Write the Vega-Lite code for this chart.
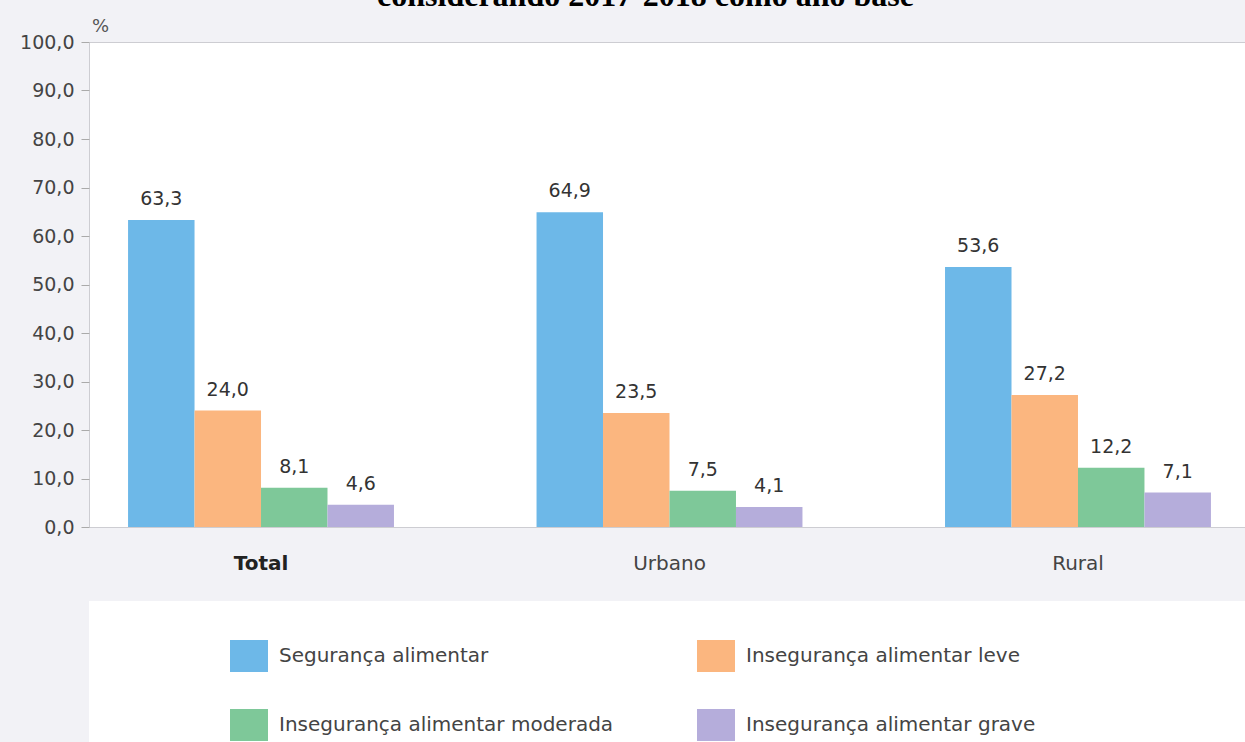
{
  "$schema": "https://vega.github.io/schema/vega-lite/v6.json",
  "background": "#f2f2f6",
  "padding": {"left": 0, "top": -21, "right": 0, "bottom": 0},
  "title": {
    "text": "considerando 2017-2018 como ano base",
    "font": "Liberation Serif",
    "fontSize": 32,
    "fontWeight": "bold",
    "color": "#000000",
    "anchor": "middle",
    "offset": 4,
    "dx": 20
  },
  "config": {
    "font": "DejaVu Sans",
    "view": {"stroke": null},
    "locale": {"number": {"decimal": ",", "thousands": ".", "grouping": [3], "currency": ["R$", ""]}}
  },
  "spacing": 27,
  "resolve": {"scale": {"color": "shared"}},
  "vconcat": [
    {
      "width": 1161,
      "height": 485,
      "view": {"fill": "white", "stroke": "#cdcdd2"},
      "data": {
        "values": [
          {"area": "Total", "cat": "Segurança alimentar", "value": 63.3},
          {"area": "Total", "cat": "Insegurança alimentar leve", "value": 24.0},
          {"area": "Total", "cat": "Insegurança alimentar moderada", "value": 8.1},
          {"area": "Total", "cat": "Insegurança alimentar grave", "value": 4.6},
          {"area": "Urbano", "cat": "Segurança alimentar", "value": 64.9},
          {"area": "Urbano", "cat": "Insegurança alimentar leve", "value": 23.5},
          {"area": "Urbano", "cat": "Insegurança alimentar moderada", "value": 7.5},
          {"area": "Urbano", "cat": "Insegurança alimentar grave", "value": 4.1},
          {"area": "Rural", "cat": "Segurança alimentar", "value": 53.6},
          {"area": "Rural", "cat": "Insegurança alimentar leve", "value": 27.2},
          {"area": "Rural", "cat": "Insegurança alimentar moderada", "value": 12.2},
          {"area": "Rural", "cat": "Insegurança alimentar grave", "value": 7.1}
        ]
      },
      "encoding": {
        "x": {
          "field": "area",
          "type": "nominal",
          "sort": ["Total", "Urbano", "Rural"],
          "scale": {"paddingInner": 0.349, "paddingOuter": 0.0956},
          "axis": {
            "title": null,
            "labelAngle": 0,
            "labelFontSize": 20,
            "labelColor": {"condition": {"test": "datum.value === 'Total'", "value": "#222222"}, "value": "#444444"},
            "labelFontWeight": {"condition": {"test": "datum.value === 'Total'", "value": "bold"}, "value": "normal"},
            "labelPadding": 26,
            "ticks": false,
            "domain": false,
            "grid": false
          }
        },
        "xOffset": {
          "field": "cat",
          "type": "nominal",
          "sort": ["Segurança alimentar", "Insegurança alimentar leve", "Insegurança alimentar moderada", "Insegurança alimentar grave"],
          "scale": {"paddingInner": 0, "paddingOuter": 0}
        },
        "y": {
          "field": "value",
          "type": "quantitative",
          "scale": {"domain": [0, 100], "nice": false},
          "axis": {
            "title": "%",
            "titleAngle": 0,
            "titleX": 11,
            "titleY": -16,
            "titleAlign": "center",
            "titleBaseline": "middle",
            "titleFontSize": 18,
            "titleFontWeight": "normal",
            "titleColor": "#555555",
            "format": ".1f",
            "values": [0, 10, 20, 30, 40, 50, 60, 70, 80, 90, 100],
            "labelFontSize": 19,
            "labelColor": "#444444",
            "labelPadding": 7,
            "tickSize": 8,
            "tickColor": "#aaaaaa",
            "grid": false,
            "domain": false,
            "minExtent": 88,
            "maxExtent": 88
          }
        }
      },
      "layer": [
        {
          "mark": {"type": "bar"},
          "encoding": {
            "color": {
              "field": "cat",
              "type": "nominal",
              "sort": ["Segurança alimentar", "Insegurança alimentar leve", "Insegurança alimentar moderada", "Insegurança alimentar grave"],
              "scale": {
                "domain": ["Segurança alimentar", "Insegurança alimentar leve", "Insegurança alimentar moderada", "Insegurança alimentar grave"],
                "range": ["#6db8e8", "#fbb67f", "#7ec899", "#b5addb"]
              },
              "legend": {
                "orient": "none",
                "direction": "horizontal",
                "legendX": 141,
                "legendY": 595,
                "title": null,
                "columns": 2,
                "padding": 0,
                "symbolType": "M-1,-0.842H1V0.842H-1Z",
                "symbolSize": 1444,
                "symbolStrokeWidth": 0,
                "symbolOpacity": 1,
                "labelFontSize": 20,
                "labelFont": "DejaVu Sans",
                "labelColor": "#444444",
                "labelOffset": 11,
                "labelLimit": 600,
                "columnPadding": 83,
                "rowPadding": 34,
                "zindex": 2
              }
            }
          }
        },
        {
          "mark": {"type": "text", "baseline": "alphabetic", "dy": -15, "fontSize": 19, "color": "#333333"},
          "encoding": {"text": {"field": "value", "type": "quantitative", "format": ".1f"}}
        }
      ]
    },
    {
      "width": 1161,
      "height": 142,
      "view": {"fill": "white", "stroke": null},
      "data": {"values": []},
      "mark": "rect",
      "encoding": {}
    }
  ]
}
